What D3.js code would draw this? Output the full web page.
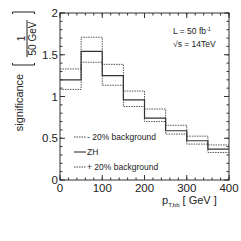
<!DOCTYPE html>
<html>
<head>
<meta charset="utf-8">
<script src="https://cdn.jsdelivr.net/npm/d3@7"></script>
<style>
  body { margin: 0; background: #fff; }
  text { font-family: "Liberation Sans", Arial, sans-serif; fill: #222; }
</style>
</head>
<body>
<div id="chart-area"></div>
<script>
// bin edges in GeV
var binEdges = [0, 50, 100, 150, 200, 250, 300, 350, 400];
var zhValues = [1.20, 1.54, 1.25, 0.96, 0.74, 0.59, 0.47, 0.37];
var minusBkg = [1.33, 1.71, 1.385, 1.065, 0.85, 0.655, 0.525, 0.42];
var plusBkg = [1.085, 1.41, 1.135, 0.88, 0.70, 0.55, 0.43, 0.33];
var xTicks = [0, 100, 200, 300, 400];
var yTicks = [0, 0.5, 1, 1.5, 2];
var legendLabels = ["- 20% background", "ZH", "+ 20% background"];

var margin = { left: 60, right: 12, top: 13, bottom: 61 };
var width = 241 - margin.left - margin.right,
	height = 241 - margin.top - margin.bottom;

var svg = d3.select("#chart-area")
	.append("svg")
	.attr("width", 241)
	.attr("height", 241);

var g = svg.append("g")
	.attr("transform", "translate(" + margin.left + "," + margin.top + ")");

var x = d3.scaleLinear().domain([0, 400]).range([0, width]);
var y = d3.scaleLinear().domain([0, 2]).range([height, 0]);

// frame
g.append("rect")
	.attr("width", width)
	.attr("height", height)
	.attr("fill", "none")
	.attr("stroke", "#333")
	.attr("stroke-width", 1);

// ticks (inward, major + minor, all four sides)
function drawTicks(vals, len, horizontal) {
	vals.forEach(function (v) {
		if (horizontal) {
			var px = x(v);
			g.append("line").attr("x1", px).attr("x2", px).attr("y1", height).attr("y2", height - len).attr("stroke", "#333");
			g.append("line").attr("x1", px).attr("x2", px).attr("y1", 0).attr("y2", len).attr("stroke", "#333");
		} else {
			var py = y(v);
			g.append("line").attr("x1", 0).attr("x2", len).attr("y1", py).attr("y2", py).attr("stroke", "#333");
			g.append("line").attr("x1", width).attr("x2", width - len).attr("y1", py).attr("y2", py).attr("stroke", "#333");
		}
	});
}
drawTicks(d3.range(0, 401, 20), 2.5, true);
drawTicks(xTicks, 5, true);
drawTicks(d3.range(0, 2.01, 0.1), 2.5, false);
drawTicks(yTicks, 5, false);

// tick labels
g.selectAll(".xlab")
	.data(xTicks)
	.enter()
	.append("text")
	.attr("x", function (d) { return x(d); })
	.attr("y", height + 12)
	.attr("text-anchor", "middle")
	.style("font-size", "11.5px")
	.text(function (d) { return d; });

g.selectAll(".ylab")
	.data(yTicks)
	.enter()
	.append("text")
	.attr("x", -2)
	.attr("y", function (d) { return y(d) + 4; })
	.attr("text-anchor", "end")
	.style("font-size", "11.5px")
	.text(function (d) { return d; });

// step histogram path
function stepLine(vals) {
	var pts = [];
	vals.forEach(function (v, i) {
		pts.push([x(binEdges[i]), y(v)]);
		pts.push([x(binEdges[i + 1]), y(v)]);
	});
	return d3.line()(pts);
}

g.append("path")
	.attr("d", stepLine(minusBkg))
	.attr("fill", "none")
	.attr("stroke", "#555")
	.attr("stroke-width", 1)
	.attr("stroke-dasharray", "1.5,1");

g.append("path")
	.attr("d", stepLine(plusBkg))
	.attr("fill", "none")
	.attr("stroke", "#555")
	.attr("stroke-width", 1)
	.attr("stroke-dasharray", "1.5,1");

g.append("path")
	.attr("d", stepLine(zhValues))
	.attr("fill", "none")
	.attr("stroke", "#333")
	.attr("stroke-width", 1.2);

// legend
var legend = g.append("g").attr("class", "legend");
legendLabels.forEach(function (lab, i) {
	var ly = 124 + i * 15;
	legend.append("line")
		.attr("x1", 14).attr("x2", 26)
		.attr("y1", ly).attr("y2", ly)
		.attr("stroke", "#444")
		.attr("stroke-width", i === 1 ? 1.2 : 1)
		.attr("stroke-dasharray", i === 1 ? null : "1.5,1");
	legend.append("text")
		.attr("x", 27)
		.attr("y", ly + 3)
		.style("font-size", "8.5px")
		.text(lab);
});

// annotations
var ann = g.append("text").attr("x", 113).attr("y", 21).style("font-size", "8.5px");
ann.append("tspan").text("L = 50 fb");
ann.append("tspan").attr("dy", -3).style("font-size", "5.5px").text("-1");

var ann2 = g.append("text").attr("x", 113).attr("y", 33.5).style("font-size", "8.5px");
ann2.append("tspan").text("\u221As = 14TeV");

// x label
var xl = svg.append("text")
	.attr("x", 162)
	.attr("y", 204)
	.style("font-size", "11px");
xl.append("tspan").text("p");
xl.append("tspan").attr("dy", 3).style("font-size", "6px").text("T,bb");
xl.append("tspan").attr("dy", -3).text(" [ GeV ]");

// y label
svg.append("text")
	.attr("transform", "translate(23, 102.5) rotate(-90)")
	.attr("text-anchor", "middle")
	.style("font-size", "11px")
	.text("significance");

var frac = svg.append("g")
	.attr("transform", "translate(0, 38.5) rotate(-90)");
frac.append("text").attr("x", 0).attr("y", 25).attr("text-anchor", "middle").style("font-size", "10px").text("1");
frac.append("line").attr("x1", -18.5).attr("x2", 18.5).attr("y1", 27).attr("y2", 27).attr("stroke", "#222");
frac.append("text").attr("x", 0).attr("y", 35.5).attr("text-anchor", "middle").style("font-size", "10px").text("50 GeV");
// brackets
frac.append("path").attr("d", "M-24.5,12.5 L-26.5,12.5 L-26.5,34.5 L-24.5,34.5").attr("fill", "none").attr("stroke", "#222");
frac.append("path").attr("d", "M24.5,12.5 L26.5,12.5 L26.5,34.5 L24.5,34.5").attr("fill", "none").attr("stroke", "#222");
</script>
</body>
</html>
